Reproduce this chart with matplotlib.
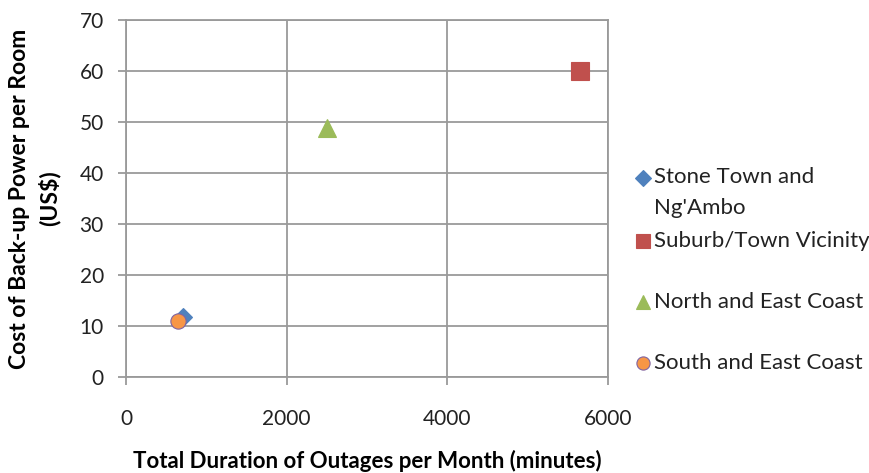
import matplotlib.pyplot as plt
from matplotlib.lines import Line2D

# dane
regions = ["Stone Town and\nNg'Ambo", "Suburb/Town Vicinity",
           "North and East Coast", "South and East Coast"]
outage_minutes = [710, 5650, 2500, 650]
backup_cost = [11.8, 60, 48.8, 11.0]
markers = ['D', 's', '^', 'o']
colors = ['#4F81BD', '#C0504D', '#9BBB59', '#F79646']
edges = ['#4F81BD', '#C0504D', '#9BBB59', '#8064A2']
sizes = [9, 13, 13, 11]

plt.rcParams['font.family'] = ['Lato', 'DejaVu Sans']

W, H = 869, 473
fig = plt.figure(figsize=(W / 100, H / 100), dpi=100)
ax = fig.add_axes([126 / W, 1 - 377 / H, 482 / W, 357 / H])

for x, y, m, c, e, s in zip(outage_minutes, backup_cost, markers,
                            colors, edges, sizes):
    ax.plot([x], [y], linestyle='none', marker=m, markersize=s,
            markerfacecolor=c, markeredgecolor=e, markeredgewidth=0.8,
            zorder=3, clip_on=False)

ax.set_xlim(0, 6000)
ax.set_ylim(0, 70)
ax.set_xticks([0, 2000, 4000, 6000])
ax.set_yticks(range(0, 71, 10))
ax.grid(True, color='#9A9A9A', linewidth=1.3)
ax.set_axisbelow(True)
for sp in ax.spines.values():
    sp.set_color('#9A9A9A')
    sp.set_linewidth(1.3)
ax.tick_params(direction='out', length=6, width=1.3, color='#9A9A9A',
               labelsize=15, labelcolor='#222222', pad=17)
ax.tick_params(axis='y', pad=10)

ax.set_xlabel('Total Duration of Outages per Month (minutes)',
              fontsize=16, fontweight='bold', va='top')
ax.xaxis.set_label_coords(0.5, -0.205)
ax.set_ylabel('Cost of Back-up Power per Room\n(US\\$)',
              fontsize=16.5, fontweight='bold', linespacing=1.45)
ax.yaxis.set_label_coords(-0.135, 0.5)

# legenda recznie - Excel zawija tekst i ustawia znacznik przy 1. linii
leg_y = [178, 241, 302, 363]
leg_ms = [8, 10, 10, 9.5]
for name, ly, m, c, e, ms in zip(regions, leg_y, markers, colors, edges, leg_ms):
    fig.add_artist(Line2D([643 / W], [1 - ly / H], transform=fig.transFigure,
                          linestyle='none', marker=m, markersize=ms,
                          markerfacecolor=c, markeredgecolor=e,
                          markeredgewidth=0.8))
    if '\n' in name:
        fig.text(654 / W, 1 - (ly - 11) / H, name, fontsize=16, va='top',
                 ha='left', color='#222222', linespacing=1.7)
    else:
        fig.text(654 / W, 1 - ly / H, name, fontsize=16, va='center',
                 ha='left', color='#222222')

plt.savefig('out.png', dpi=100)
